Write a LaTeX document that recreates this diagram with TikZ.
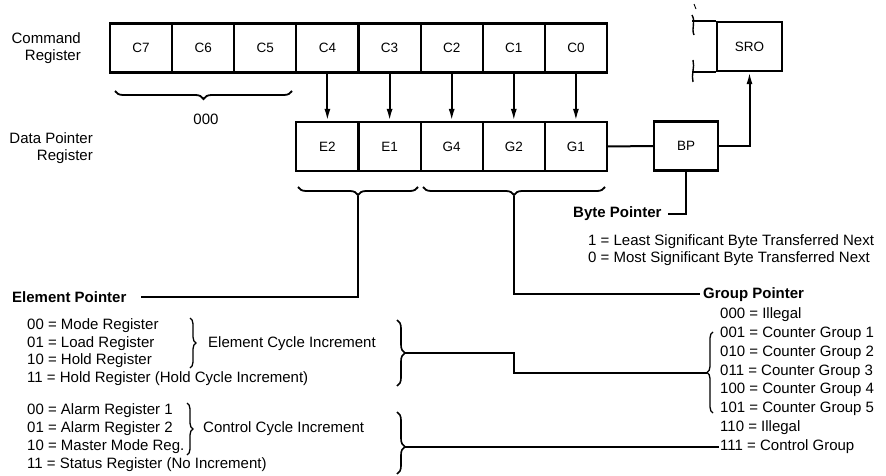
\documentclass[tikz,border=0pt]{standalone}
\usepackage{fontspec}
\setmainfont{Liberation Sans}
\usetikzlibrary{decorations.pathreplacing,arrows.meta}
\begin{document}
\begin{tikzpicture}[x=1pt,y=-1pt,
  every node/.style={font=\fontsize{15}{17}\selectfont},
  cell/.style={draw, line width=2.2pt, minimum width=62.1pt, minimum height=49pt, inner sep=0pt, font=\fontsize{13.5}{16}\selectfont},
  txt/.style={anchor=west, inner sep=0pt},
  hdr/.style={anchor=west, inner sep=0pt, font=\fontsize{15}{17}\selectfont\bfseries},
  lbl/.style={align=right, anchor=east, inner sep=0pt},
  conn/.style={line width=2pt},
  arr/.style={line width=2pt, -{Latex[length=12pt,width=6pt]}},
  hbrace/.style={line width=1.8pt, decorate, decoration={brace, mirror, amplitude=8pt}},
  rbrace/.style={line width=1.6pt, decorate, decoration={brace, amplitude=8pt}},
  sbrace/.style={line width=1.3pt, decorate, decoration={brace, amplitude=6pt}},
  lbrace/.style={line width=1.3pt, decorate, decoration={brace, mirror, amplitude=6pt}},
  brk/.style={line width=1.4pt}
]
\fill[white] (0,0) rectangle (886,476);
\useasboundingbox (0,0) rectangle (886,476);

% command register
\node[cell] (c7) at (141.1,48) {C7};
\node[cell] (c6) at (203.2,48) {C6};
\node[cell] (c5) at (265.3,48) {C5};
\node[cell] (c4) at (327.4,48) {C4};
\node[cell] (c3) at (389.6,48) {C3};
\node[cell] (c2) at (451.7,48) {C2};
\node[cell] (c1) at (513.8,48) {C1};
\node[cell] (c0) at (575.9,48) {C0};
% data pointer register
\node[cell] (e2) at (327.4,146.5) {E2};
\node[cell] (e1) at (389.6,146.5) {E1};
\node[cell] (g4) at (451.7,146.5) {G4};
\node[cell] (g2) at (513.8,146.5) {G2};
\node[cell] (g1) at (575.9,146.5) {G1};
\node[cell, minimum width=64pt] (bp) at (686,146) {BP};
\node[cell, minimum width=65pt] (sro) at (749.5,46.5) {SRO};

\foreach \a/\b in {c4/e2,c3/e1,c2/g4,c1/g2,c0/g1}
  \draw[arr] (\a.south) -- (\b.north);
\draw[conn] (g1.east) -- (bp.west);
\draw[arr] (bp.east) -| (sro.south);

% broken register left of SRO
\draw[conn] (sro.north west) -- ++(-24,0);
\draw[conn] (sro.south west) -- ++(-24,0);
\draw[brk] (692,15) .. controls (696,22) and (691,28) .. (694,35);
\draw[brk] (693,60) .. controls (695,67) and (691,75) .. (693,82);
\draw[line width=0.9pt] (694,4) -- (696,9);

% side labels
\node[lbl] (cmdlbl) at (81,48.5) {Command\\Register};
\node[lbl] (dplbl) at (93,148) {Data Pointer\\Register};

% braces under registers
\draw[hbrace] (115,91) -- (292,91);
\node (z000) at (206,119) {000};
\draw[hbrace] (298,187) -- (418,187);
\draw[hbrace] (423,187) -- (605,187);
\coordinate (ebt) at (358,196);
\coordinate (gbt) at (514,196);

% element pointer
\node[hdr] (eptr) at (12,297) {Element Pointer};
\coordinate (epend) at (141,297);
\draw[conn] (ebt) |- (epend);

% group pointer
\node[hdr] (gptr) at (703,295) {Group Pointer};
\coordinate (gpend) at (700,294);
\draw[conn] (gbt) |- (gpend);

% byte pointer
\node[hdr] (bptr) at (573,214) {Byte Pointer};
\coordinate (bpend) at (668,214);
\draw[conn] (bp.south) |- (bpend);
\node[txt] (b1) at (588,242) {1 = Least Significant Byte Transferred Next};
\node[txt] (b0) at (588,259) {0 = Most Significant Byte Transferred Next};

% group pointer values
\node[txt] (r000) at (720,315) {000 = Illegal};
\node[txt] (r001) at (720,334) {001 = Counter Group 1};
\node[txt] (r010) at (720,353) {010 = Counter Group 2};
\node[txt] (r011) at (720,372) {011 = Counter Group 3};
\node[txt] (r100) at (720,390) {100 = Counter Group 4};
\node[txt] (r101) at (720,409) {101 = Counter Group 5};
\node[txt] (r110) at (720,428) {110 = Illegal};
\node[txt] (r111) at (720,447) {111 = Control Group};
\draw[lbrace] (713,332) -- (713,413);
\coordinate (gbr) at (707,372.5);

% element pointer values
\node[txt] (l1) at (27,326) {00 = Mode Register};
\node[txt] (l2) at (27,343.5) {01 = Load Register};
\node[txt] (l3) at (27,361) {10 = Hold Register};
\node[txt] (l4) at (27,379) {11 = Hold Register (Hold Cycle Increment)};
\node[txt] (l5) at (27,411) {00 = Alarm Register 1};
\node[txt] (l6) at (27,429) {01 = Alarm Register 2};
\node[txt] (l7) at (27,447) {10 = Master Mode Reg.};
\node[txt] (l8) at (27,465) {11 = Status Register (No Increment)};

\draw[sbrace] (190,318) -- (190,368);
\node[txt] (eci) at (208,343.5) {Element Cycle Increment};
\draw[sbrace] (187,403) -- (187,455);
\node[txt] (cci) at (203,429) {Control Cycle Increment};

\draw[rbrace] (397,320) -- (397,386);
\coordinate (ebr) at (405,353);
\draw[rbrace, decoration={aspect=0.56}] (397,412) -- (397,474);
\coordinate (cbr) at (405,447);

\draw[conn] (ebr) -- (514,353) |- (gbr);
\draw[conn] (cbr) -- ([xshift=-1pt]r111.west);
\end{tikzpicture}
\end{document}
